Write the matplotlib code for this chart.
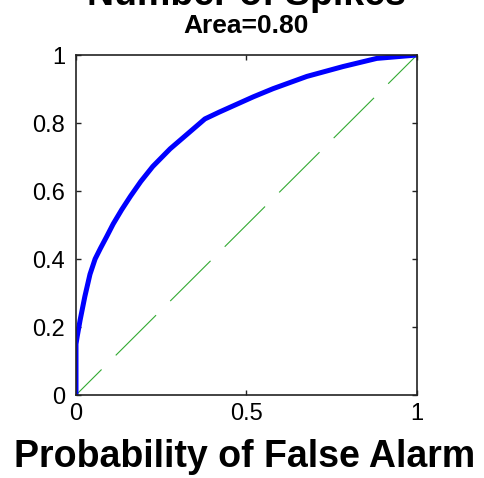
import matplotlib
matplotlib.use("Agg")
import matplotlib.pyplot as plt

# ROC curve: probability of false alarm vs probability of detection
p_fa = [0.0, 0.0, 0.004, 0.012, 0.026, 0.041, 0.056, 0.072, 0.09, 0.109,
        0.134, 0.160, 0.190, 0.225, 0.276, 0.334, 0.378, 0.42, 0.46, 0.52,
        0.578, 0.677, 0.783, 0.882, 1.0]
p_det = [0.0, 0.15, 0.175, 0.22, 0.29, 0.355, 0.40, 0.432, 0.466, 0.503,
         0.545, 0.585, 0.628, 0.672, 0.724, 0.774, 0.812, 0.832, 0.850, 0.877,
         0.901, 0.937, 0.966, 0.99, 1.0]
area = 0.80

xticks = [0, 0.5, 1]
xtick_labels = ["0", "0.5", "1"]
yticks = [0, 0.2, 0.4, 0.6, 0.8, 1]
ytick_labels = ["0", "0.2", "0.4", "0.6", "0.8", "1"]

plt.rcParams["font.family"] = ["Liberation Sans", "DejaVu Sans"]
plt.rcParams["lines.scale_dashes"] = False

fig = plt.figure(figsize=(4.85, 4.78), dpi=100)
ax = fig.add_axes([76 / 485, 1 - 395 / 478, 341 / 485, 340 / 478])

# chance diagonal
ax.plot([0, 1], [0, 1], color="#33aa33", lw=0.8,
        linestyle=(15, (41, 14.4)))
ax.plot(p_fa, p_det, color="#0000ff", lw=3.6, solid_joinstyle="round",
        solid_capstyle="butt")

ax.set_xlim(0, 1)
ax.set_ylim(0, 1)
ax.set_xticks(xticks)
ax.set_xticklabels(xtick_labels)
ax.set_yticks(yticks)
ax.set_yticklabels(ytick_labels)
ax.tick_params(direction="in", length=3.5, width=1.0, labelsize=17,
               top=True, right=True, color="#222222")
ax.tick_params(axis="x", pad=6)
ax.tick_params(axis="y", pad=8)
for s in ax.spines.values():
    s.set_linewidth(1.2)
    s.set_color("#222222")

cx = 0.5 * (76 + 417) / 485
fig.text(cx, 1 - 5 / 478, "Number of Spikes",
         ha="center", va="baseline", fontsize=27, fontweight="bold")
fig.text(cx, 1 - 33 / 478, "Area=%.2f" % area,
         ha="center", va="baseline", fontsize=19, fontweight="bold")
fig.text(cx - 2 / 485, 1 - 467 / 478, "Probability of False Alarm",
         ha="center", va="baseline", fontsize=27, fontweight="bold")

fig.savefig("out.png", dpi=100)
